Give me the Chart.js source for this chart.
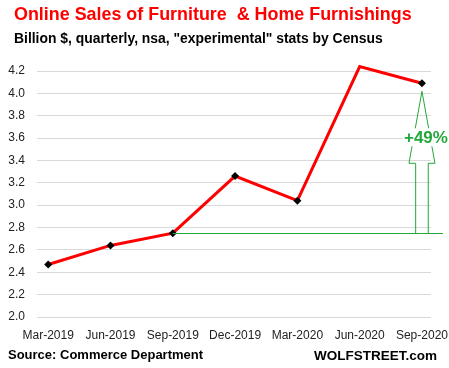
<!DOCTYPE html>
<html><head><meta charset="utf-8">
<script src="https://cdn.jsdelivr.net/npm/chart.js@4"></script>
<style>html,body{margin:0;padding:0;background:#fff}#w{position:relative;width:449px;height:368px}</style>
</head><body><div id="w"><canvas id="c" width="449" height="368"></canvas></div>
<script>
const categories = ["Mar-2019","Jun-2019","Sep-2019","Dec-2019","Mar-2020","Jun-2020","Sep-2020"];
const sales = [2.47, 2.64, 2.75, 3.26, 3.04, 4.24, 4.09];
const yTicks = [2.0,2.2,2.4,2.6,2.8,3.0,3.2,3.4,3.6,3.8,4.0,4.2];
const titleText = "Online Sales of Furniture  & Home Furnishings";
const subtitleText = "Billion $, quarterly, nsa, \"experimental\" stats by Census";
const sourceText = "Source: Commerce Department";
const brandText = "WOLFSTREET.com";
const changeText = "+49%";

const F = "'Liberation Sans', Arial, sans-serif";
const green = "#22a83a";

const textPlugin = {
  id: 'texts',
  afterDraw(chart) {
    const ctx = chart.ctx;
    ctx.save();
    ctx.textBaseline = 'alphabetic';
    ctx.textAlign = 'left';
    ctx.fillStyle = '#ff0000';
    ctx.font = "bold 17.9px " + F;
    ctx.fillText(titleText, 14, 20);
    ctx.fillStyle = '#000';
    ctx.font = "bold 13.9px " + F;
    ctx.fillText(subtitleText, 14, 43);
    ctx.font = "bold 13px " + F;
    ctx.fillText(sourceText, 8, 359);
    ctx.font = "bold 13.5px " + F;
    ctx.textAlign = 'right';
    ctx.fillText(brandText, 437, 360);
    ctx.restore();
  }
};

const annoPlugin = {
  id: 'anno',
  afterDatasetsDraw(chart) {
    const ctx = chart.ctx, xs = chart.scales.x, ys = chart.scales.y;
    const base = sales[2], top = sales[6];
    const yb = ys.getPixelForValue(base);
    const x0 = xs.getPixelForValue(2);
    const ca = chart.chartArea;
    const xr = ca.right + 12;
    ctx.save();
    ctx.strokeStyle = green;
    ctx.lineWidth = 1;
    ctx.beginPath();
    ctx.moveTo(x0, Math.round(yb) + 0.5);
    ctx.lineTo(xr, Math.round(yb) + 0.5);
    ctx.stroke();
    const xc = xs.getPixelForValue(6);
    const yt = ys.getPixelForValue(top) + 8;
    const sw = 6.3, hw = 13, headBase = yt + 72;
    ctx.beginPath();
    ctx.moveTo(xc - sw, yb);
    ctx.lineTo(xc - sw, headBase);
    ctx.lineTo(xc - hw, headBase);
    ctx.lineTo(xc, yt);
    ctx.lineTo(xc + hw, headBase);
    ctx.lineTo(xc + sw, headBase);
    ctx.lineTo(xc + sw, yb);
    ctx.stroke();
    ctx.font = "bold 17px " + F;
    const tw = ctx.measureText(changeText).width;
    const tx = xc + 4, ty = yt + 46;
    ctx.fillStyle = '#fff';
    ctx.fillRect(tx - tw / 2 - 1, ty - 9, tw + 2, 18);
    ctx.fillStyle = green;
    ctx.textAlign = 'center';
    ctx.textBaseline = 'middle';
    ctx.fillText(changeText, tx, ty + 1);
    ctx.restore();
  }
};

new Chart(document.getElementById('c'), {
  type: 'line',
  data: {
    datasets: [{
      data: sales.map((v, i) => ({x: i, y: v})),
      borderColor: '#ff0000',
      borderWidth: 3,
      pointStyle: 'rectRot',
      pointRadius: 4,
      pointBackgroundColor: '#000',
      pointBorderColor: '#000',
      pointBorderWidth: 0,
      tension: 0,
      clip: false
    }]
  },
  options: {
    responsive: false,
    animation: false,
    events: [],
    layout: { padding: { top: 71, right: 18, left: 2, bottom: 7 } },
    plugins: { legend: { display: false }, tooltip: { enabled: false } },
    scales: {
      x: {
        type: 'linear',
        min: -0.18, max: 6.145,
        afterBuildTicks(s) { s.ticks = categories.map((c, i) => ({value: i})); },
        afterFit(s) { s.paddingLeft = 0; s.paddingRight = 0; s.height = 44; },
        ticks: {
          autoSkip: false, maxRotation: 0, padding: 3,
          color: '#222', font: { family: F, size: 12 },
          callback: (v) => categories[v]
        },
        grid: { display: false },
        border: { display: false }
      },
      y: {
        min: 2.0, max: 4.2,
        afterBuildTicks(s) { s.ticks = yTicks.map(v => ({value: v})); },
        afterFit(s) { s.width = 35; },
        ticks: {
          color: '#222', font: { family: F, size: 12 }, padding: 12,
          callback: (v) => v.toFixed(1)
        },
        grid: { color: '#d9d9d9', lineWidth: 1, drawTicks: false },
        border: { display: false }
      }
    }
  },
  plugins: [textPlugin, annoPlugin]
});
</script></body></html>
